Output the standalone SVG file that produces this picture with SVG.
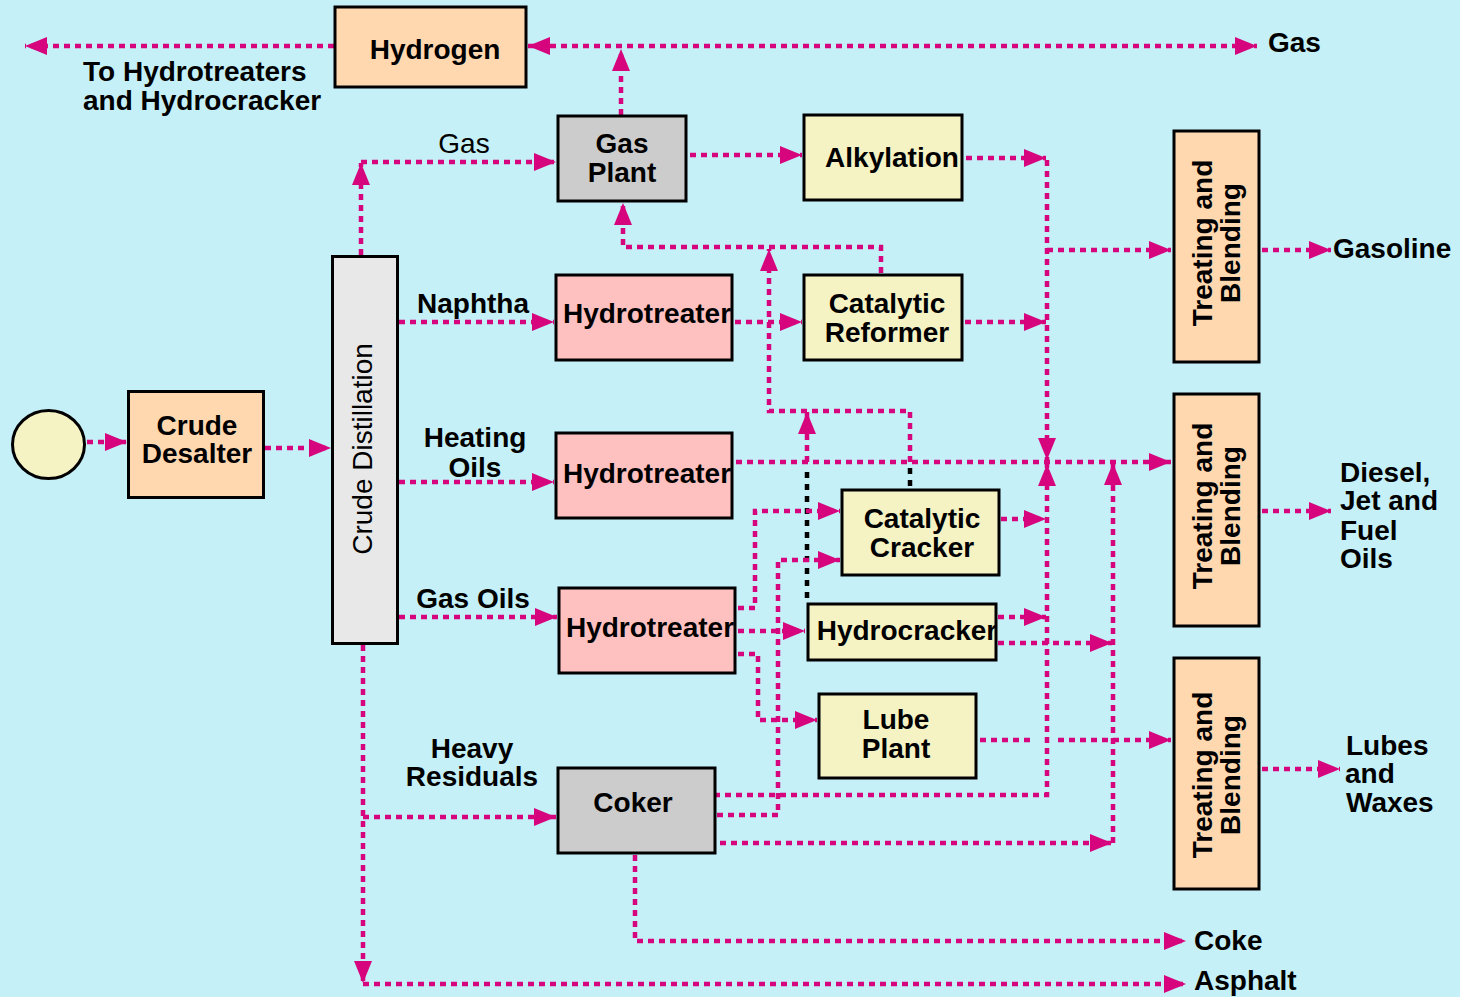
<svg xmlns="http://www.w3.org/2000/svg" width="1460" height="997" viewBox="0 0 1460 997">
<style>
.bx{stroke:#000;stroke-width:3}
.pe{fill:#FFD8B0}.pk{fill:#FFC0C0}.ye{fill:#F5F2C4}.gr{fill:#CCCCCC}.lg{fill:#E8E8E8}
text{font-family:"Liberation Sans",Arial,sans-serif;font-size:28px;fill:#000}
.b{font-weight:bold}
.m{text-anchor:middle}
.c{fill:none;stroke:#D6047D;stroke-width:4.5;stroke-dasharray:6 5}
.a{marker-end:url(#ah)}
.k{fill:none;stroke:#000;stroke-width:4.5;stroke-dasharray:6 6}
</style>
<defs>
<marker id="ah" markerUnits="userSpaceOnUse" markerWidth="22" markerHeight="18" refX="22" refY="9" orient="auto-start-reverse" viewBox="0 0 22 18"><path d="M0,0 L22,9 L0,18 z" fill="#D6047D"/></marker>
</defs>
<rect width="1460" height="997" fill="#C5F0F8"/>
<g id="connectors">
<path class="c a" d="M65,442 H127"/>
<path class="c a" d="M265,448 H331"/>
<path class="c a" d="M361,255 V163"/>
<path class="c a" d="M361,162 H556"/>
<path class="c a" d="M621,115 V49"/>
<path class="c a" d="M528,46 H1257" marker-start="url(#ah)"/>
<path class="c a" d="M334,46 H25"/>
<path class="c a" d="M690,155 H802"/>
<path class="c a" d="M966,158 H1046"/>
<path class="c a" d="M1047,160 V460"/>
<path class="c a" d="M1047,250 H1171"/>
<path class="c a" d="M735,322 H802"/>
<path class="c a" d="M965,322 H1046"/>
<path class="c a" d="M881,273 V247 H623 V203"/>
<path class="c a" d="M910,462 V411 H769 V249"/>
<path class="k" d="M910,468 V488"/>
<path class="c a" d="M807,462 V412"/>
<path class="k" d="M807,472 V602"/>
<path class="c a" d="M736,462 H1171"/>
<path class="c a" d="M399,322 H554"/>
<path class="c a" d="M399,482 H554"/>
<path class="c a" d="M399,617 H557"/>
<path class="c a" d="M363,645 V983"/>
<path class="c a" d="M363,984 H1186"/>
<path class="c a" d="M363,817 H556"/>
<path class="c a" d="M635,855 V941 H1186"/>
<path class="c a" d="M714,795 H1047 V464"/>
<path class="c a" d="M717,815 H778 V560 H840"/>
<path class="c a" d="M720,843 H1112"/>
<path class="c a" d="M1113,843 V463"/>
<path class="c a" d="M738,608 H755 V511 H840"/>
<path class="c a" d="M738,631 H805"/>
<path class="c a" d="M738,654 H758 V720 H817"/>
<path class="c a" d="M1001,519 H1046"/>
<path class="c a" d="M998,617 H1046"/>
<path class="c a" d="M998,643 H1112"/>
<path class="c" d="M980,740 H1030"/>
<path class="c a" d="M1058,740 H1171"/>
<path class="c a" d="M1262,250 H1331"/>
<path class="c a" d="M1262,511 H1331"/>
<path class="c a" d="M1262,769 H1340"/>
</g>
<g id="feed"><ellipse class="bx ye" cx="48.5" cy="444.5" rx="36" ry="34"/></g>
<g id="desalter"><rect class="bx pe" x="128.5" y="391.5" width="135" height="106"/><text class="b m" x="197" y="435">Crude</text><text class="b m" x="197" y="463">Desalter</text></g>
<g id="distillation"><rect class="bx lg" x="332.5" y="256.5" width="65" height="387"/><text class="m" transform="translate(372,449) rotate(-90)">Crude Distillation</text></g>
<g id="hydrogen"><rect class="bx pe" x="335" y="7" width="191" height="80"/><text class="b m" x="435" y="59">Hydrogen</text></g>
<g id="gasplant"><rect class="bx gr" x="558" y="116" width="128" height="85"/><text class="b m" x="622" y="153">Gas</text><text class="b m" x="622" y="182">Plant</text></g>
<g id="alkylation"><rect class="bx ye" x="804" y="115" width="158" height="85"/><text class="b m" x="892" y="167">Alkylation</text></g>
<g id="hydrotreater1"><rect class="bx pk" x="556" y="275" width="176" height="85"/><text class="b m" x="647" y="323">Hydrotreater</text></g>
<g id="reformer"><rect class="bx ye" x="804" y="275" width="158" height="85"/><text class="b m" x="887" y="313">Catalytic</text><text class="b m" x="887" y="342">Reformer</text></g>
<g id="hydrotreater2"><rect class="bx pk" x="556" y="433" width="176" height="85"/><text class="b m" x="647" y="483">Hydrotreater</text></g>
<g id="cracker"><rect class="bx ye" x="842" y="490" width="157" height="85"/><text class="b m" x="922" y="528">Catalytic</text><text class="b m" x="922" y="557">Cracker</text></g>
<g id="hydrotreater3"><rect class="bx pk" x="559" y="588" width="176" height="85"/><text class="b m" x="650" y="637">Hydrotreater</text></g>
<g id="hydrocracker"><rect class="bx ye" x="808" y="604" width="188" height="56"/><text class="b m" x="907" y="640">Hydrocracker</text></g>
<g id="lubeplant"><rect class="bx ye" x="819" y="694" width="157" height="84"/><text class="b m" x="896" y="729">Lube</text><text class="b m" x="896" y="758">Plant</text></g>
<g id="coker"><rect class="bx gr" x="558" y="768" width="157" height="85"/><text class="b m" x="633" y="812">Coker</text></g>
<g id="blend1"><rect class="bx pe" x="1174" y="131" width="85" height="231"/><text class="b m" transform="translate(1212,243) rotate(-90)">Treating and</text><text class="b m" transform="translate(1240,243) rotate(-90)">Blending</text></g>
<g id="blend2"><rect class="bx pe" x="1174" y="394" width="85" height="232"/><text class="b m" transform="translate(1212,506) rotate(-90)">Treating and</text><text class="b m" transform="translate(1240,506) rotate(-90)">Blending</text></g>
<g id="blend3"><rect class="bx pe" x="1174" y="658" width="85" height="231"/><text class="b m" transform="translate(1212,775) rotate(-90)">Treating and</text><text class="b m" transform="translate(1240,775) rotate(-90)">Blending</text></g>
<g id="labels">
<text class="b" x="83" y="81">To Hydrotreaters</text>
<text class="b" x="83" y="110">and Hydrocracker</text>
<text class="b" x="1268" y="52">Gas</text>
<text class="m" x="464" y="153">Gas</text>
<text class="b m" x="473" y="313">Naphtha</text>
<text class="b m" x="475" y="447">Heating</text>
<text class="b m" x="475" y="477">Oils</text>
<text class="b m" x="473" y="608">Gas Oils</text>
<text class="b m" x="472" y="758">Heavy</text>
<text class="b m" x="472" y="786">Residuals</text>
<text class="b" x="1333" y="258">Gasoline</text>
<text class="b" x="1340" y="482">Diesel,</text>
<text class="b" x="1340" y="510">Jet and</text>
<text class="b" x="1340" y="540">Fuel</text>
<text class="b" x="1340" y="568">Oils</text>
<text class="b" x="1346" y="755">Lubes</text>
<text class="b" x="1345" y="783">and</text>
<text class="b" x="1346" y="812">Waxes</text>
<text class="b" x="1194" y="950">Coke</text>
<text class="b" x="1194" y="990">Asphalt</text>
</g>
</svg>
